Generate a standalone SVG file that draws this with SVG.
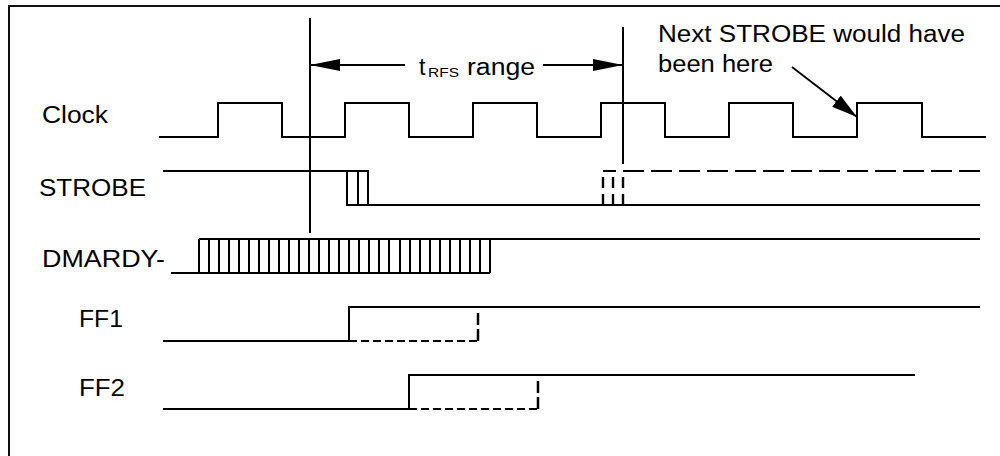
<svg xmlns="http://www.w3.org/2000/svg" width="1000" height="456" viewBox="0 0 1000 456">
<style>
.t{font-family:"Liberation Sans",Arial,sans-serif;font-size:23px;fill:#000}
.w{fill:none;stroke:#000;stroke-width:2}
.d1{fill:none;stroke:#000;stroke-width:2;stroke-dasharray:21 7}
.d2{fill:none;stroke:#000;stroke-width:2.4;stroke-dasharray:11 6}
.d3{fill:none;stroke:#000;stroke-width:2;stroke-dasharray:8 4}
.d4{fill:none;stroke:#000;stroke-width:2.5;stroke-dasharray:12 4}
.a{fill:none;stroke:#000;stroke-width:1.8}
</style>
<defs>
<marker id="ah" viewBox="0 0 30 12" refX="30" refY="6" markerWidth="30" markerHeight="12" markerUnits="userSpaceOnUse" orient="auto">
<path d="M0,0 L30,6 L0,12 z" fill="#000"/>
</marker>
<marker id="ah2" viewBox="0 0 26 14" refX="26" refY="7" markerWidth="26" markerHeight="14" markerUnits="userSpaceOnUse" orient="auto">
<path d="M0,0 L26,7 L0,14 z" fill="#000"/>
</marker>
</defs>
<rect x="0" y="0" width="1000" height="456" fill="#fff"/>
<rect x="9" y="6" width="1000" height="470" fill="none" stroke="#111" stroke-width="2"/>

<g id="clock">
<text class="t" x="42" y="123" textLength="66" lengthAdjust="spacingAndGlyphs">Clock</text>
<path class="w" d="M159,137 H218 V103 H282 V137 H345 V103 H409 V137 H473 V103 H537 V137 H601 V103 H665 V137 H729 V103 H793 V137 H857 V103 H922 V137 H986"/>
</g>

<g id="strobe">
<text class="t" x="39" y="196" textLength="107" lengthAdjust="spacingAndGlyphs">STROBE</text>
<path class="w" d="M163,171 H368 V205 M347,171 V205 H980 M358,171 V205"/>
<path class="d1" d="M603,171 H616 M623,171 H980"/>
<path class="d2" d="M603,205 V171 M613,205 V171 M623,205 V171"/>
</g>

<g id="dmardy">
<text class="t" x="42" y="267" textLength="123" lengthAdjust="spacingAndGlyphs">DMARDY-</text>
<path class="w" d="M171,273 H490 M199,239 H980"/>
<path class="w" stroke-width="1.6" d="M199,239V273 M209,239V273 M219,239V273 M229,239V273 M239,239V273 M249,239V273 M259,239V273 M269,239V273 M279,239V273 M289,239V273 M299,239V273 M309,239V273 M319,239V273 M329,239V273 M339,239V273 M349,239V273 M359,239V273 M369,239V273 M379,239V273 M389,239V273 M400,239V273 M410,239V273 M420,239V273 M430,239V273 M440,239V273 M450,239V273 M460,239V273 M470,239V273 M480,239V273 M490,239V273"/>
</g>

<g id="ff1">
<text class="t" x="79" y="327" textLength="44" lengthAdjust="spacingAndGlyphs">FF1</text>
<path class="w" d="M163,341 H349 V307 H980"/>
<path class="d3" d="M349,341 H478"/>
<path class="d4" d="M478,341 V313"/>
</g>

<g id="ff2">
<text class="t" x="79" y="396" textLength="46" lengthAdjust="spacingAndGlyphs">FF2</text>
<path class="w" d="M163,409 H409 V375 H915"/>
<path class="d3" d="M409,409 H538"/>
<path class="d4" d="M538,409 V381"/>
</g>

<g id="markers">
<path class="w" d="M310,18 V233 M623,27 V164"/>
</g>

<g id="trfs-label">
<text class="t" x="419" y="75">t<tspan x="428" y="77.3" font-size="13" textLength="31" lengthAdjust="spacingAndGlyphs">RFS</tspan><tspan x="467" y="75" textLength="68" lengthAdjust="spacingAndGlyphs">range</tspan></text>
</g>

<g id="note">
<text class="t" x="658" y="42" textLength="307" lengthAdjust="spacingAndGlyphs">Next STROBE would have</text>
<text class="t" x="658" y="72" textLength="115" lengthAdjust="spacingAndGlyphs">been here</text>
</g>

<g id="connectors">
<path class="a" d="M405,65 H310" marker-end="url(#ah)"/>
<path class="a" d="M543,65 H623" marker-end="url(#ah)"/>
<path class="a" d="M792,67 L857,117" marker-end="url(#ah2)"/>
</g>
</svg>
